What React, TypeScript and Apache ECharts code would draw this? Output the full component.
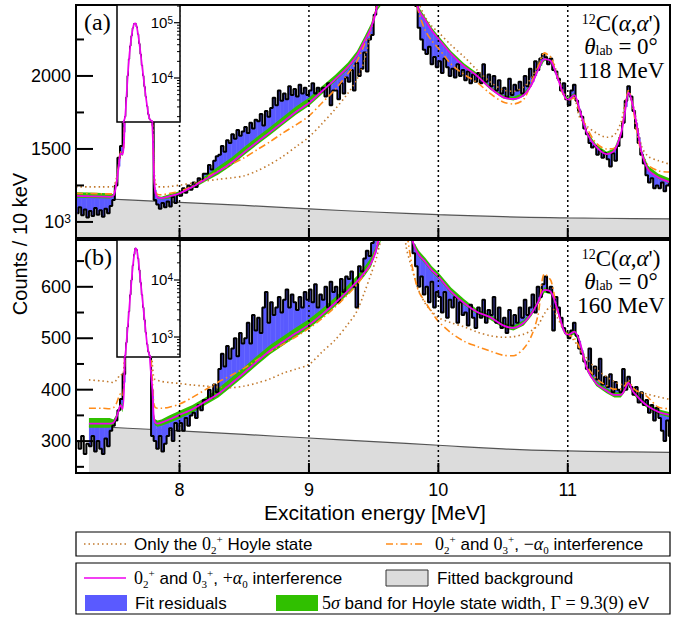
import React, { useEffect, useRef } from "react";
import * as echarts from "echarts";

// ---------- data ----------
const BIN_START = 7.21; // MeV, centre of first displayed bin
const BIN_STEP = 0.02;

const countsA = [
  1060, 1100, 1045, 1085, 1030, 1075, 1040, 1095, 1050, 1080,
  1035, 1090, 1060, 1110, 1150, 1250, 1440, 1520, 1900, 5000,
  25000, 60000, 98000, 85000, 42000, 17000, 7000, 3000, 2000, 1800,
  1150, 1120, 1090, 1130, 1100, 1140, 1105, 1170, 1130, 1190,
  1180, 1230, 1200, 1250, 1220, 1270, 1240, 1300, 1280, 1330,
  1330, 1390, 1360, 1420, 1450, 1460, 1520, 1480, 1560, 1540,
  1600, 1570, 1630, 1590, 1620, 1650, 1610, 1680, 1640, 1700,
  1690, 1740, 1660, 1760, 1720, 1780, 1850, 1800, 1900, 1830,
  1880, 1840, 1930, 1870, 1910, 1860, 1940, 1880, 1920, 1870,
  1900, 1950, 1880, 1920, 1890, 1920, 1860, 1950, 1800, 1900,
  1900, 1840, 1950, 1880, 1990, 1960, 2040, 1900, 2090, 2000,
  2050, 2160, 2030, 2250, 2280, 2420, 2700, 3000, 3400, 3800,
  4200, 4500, 4600, 4500, 4300, 4000, 3700, 3300, 3000, 2800,
  2620, 2480, 2330, 2250, 2180, 2150, 2200, 2080, 2130, 2060,
  2100, 2020, 2120, 2060, 2000, 2050, 1990, 2080, 2000, 2040,
  1970, 2030, 1950, 2010, 1960, 2020, 1950, 2080, 1960, 2010,
  1930, 2000, 1900, 1970, 1880, 1920, 1850, 1980, 1870, 1940,
  1900, 1960, 1880, 2000, 1930, 2050, 1990, 2100, 2040, 2120,
  2150, 2130, 2080, 2120, 2040, 2030, 1980, 1900, 1950, 1840,
  1800, 1900, 1940, 1830, 1760, 1720, 1640, 1600, 1540, 1510,
  1520, 1460, 1490, 1440, 1470, 1430, 1380, 1470, 1420, 1520,
  1580, 1680, 1830, 1930, 1860, 1760, 1640, 1540, 1460, 1400,
  1320, 1270, 1300, 1230, 1250, 1230, 1270, 1210, 1250, 1260,
];

const countsB = [
  300, 285, 310, 275, 295, 290, 310, 280, 300, 285,
  275, 305, 290, 320, 330, 340, 360, 382, 430, 1100,
  3000, 10000, 28000, 34000, 15000, 5500, 2000, 750, 470, 310,
  300, 285, 310, 280, 295, 310, 325, 300, 335, 320,
  335, 320, 345, 330, 350, 355, 345, 370, 360, 380,
  380, 400, 385, 410, 395, 440, 470, 445, 485, 460,
  480, 500, 465, 510, 490, 500, 530, 490, 545, 515,
  540, 510, 560, 590, 530, 570, 545, 560, 580, 550,
  575, 595, 560, 585, 570, 555, 580, 560, 590, 575,
  595, 570, 605, 560, 585, 575, 600, 560, 610, 590,
  600, 570, 615, 590, 620, 615, 630, 600, 560, 640,
  630, 655, 670, 660, 685, 730, 900, 1100, 1300, 1500,
  1600, 1700, 1700, 1650, 1550, 1400, 1200, 1000, 850, 740,
  665, 640, 600, 620, 585, 600, 570, 610, 560, 590,
  580, 550, 590, 540, 575, 560, 580, 530, 570, 545,
  550, 525, 565, 540, 520, 560, 540, 575, 530, 555,
  545, 580, 530, 560, 520, 540, 510, 555, 525, 545,
  530, 560, 540, 575, 545, 560, 585, 550, 600, 580,
  605, 620, 590, 600, 515, 580, 560, 540, 520, 510,
  500, 515, 530, 505, 480, 470, 455, 440, 480, 430,
  445, 420, 460, 410, 425, 405, 430, 395, 415, 400,
  395, 440, 400, 425, 405, 390, 405, 375, 395, 370,
  380, 355, 370, 340, 365, 345, 320, 300, 340, 310,
];

// energies at which the model curves are sampled
const curveE = [
  7.2, 7.3, 7.4, 7.46, 7.49, 7.51, 7.53, 7.545, 7.56, 7.575,
  7.59, 7.62, 7.66, 7.7, 7.74, 7.77, 7.79, 7.8, 7.81, 7.83,
  7.86, 7.92, 8.0, 8.1, 8.2, 8.3, 8.4, 8.5, 8.6, 8.7,
  8.8, 8.9, 9.0, 9.1, 9.2, 9.3, 9.37, 9.43, 9.48, 9.52,
  9.56, 9.6, 9.65, 9.7, 9.75, 9.79, 9.82, 9.85, 9.9, 9.95,
  10.0, 10.1, 10.2, 10.3, 10.4, 10.5, 10.58, 10.66, 10.72, 10.77,
  10.82, 10.87, 10.92, 10.97, 11.0, 11.05, 11.09, 11.15, 11.22, 11.3,
  11.36, 11.41, 11.44, 11.47, 11.5, 11.53, 11.57, 11.62, 11.7, 11.79,
];

const fitA = [
  1178, 1176, 1174, 1172, 1180, 1250, 1380, 1470, 1462, 1690,
  4500, 38000, 97000, 27000, 4600, 1850, 1660, 1400, 1220, 1168,
  1163, 1175, 1196, 1240, 1292, 1345, 1405, 1478, 1548, 1615,
  1685, 1755, 1815, 1895, 1975, 2060, 2140, 2240, 2330, 2450,
  2700, 3300, 4200, 4000, 3300, 2750, 2560, 2450, 2380, 2310,
  2255, 2150, 2065, 2000, 1918, 1855, 1842, 1870, 1940, 2040,
  2115, 2100, 1990, 1870, 1836, 1868, 1775, 1605, 1515, 1465,
  1490, 1600, 1740, 1885, 1810, 1680, 1480, 1360, 1305, 1272,
];
const bandUpA = [
  25, 25, 25, 25, 10, 10, 10, 10, 10, 10,
  10, 10, 10, 10, 10, 10, 10, 10, 10, 10,
  10, 15, 15, 15, 22, 35, 35, 35, 35, 35,
  35, 35, 35, 35, 30, 30, 30, 30, 30, 20,
  20, 20, 20, 20, 20, 20, 20, 20, 20, 20,
  20, 20, 20, 20, 15, 15, 15, 15, 15, 15,
  15, 15, 15, 15, 15, 15, 15, 15, 15, 15,
  15, 15, 15, 15, 15, 15, 15, 25, 25, 25,
];
const bandDnA = [
  12, 12, 12, 12, 10, 10, 10, 10, 10, 10,
  10, 10, 10, 10, 10, 10, 10, 10, 10, 10,
  10, 15, 15, 15, 15, 20, 20, 20, 20, 20,
  20, 20, 20, 20, 15, 15, 15, 15, 15, 8,
  8, 8, 8, 8, 8, 8, 8, 8, 8, 8,
  8, 8, 8, 8, 10, 10, 10, 10, 10, 10,
  10, 10, 10, 10, 10, 10, 10, 10, 10, 10,
  10, 10, 10, 10, 10, 10, 10, 10, 10, 10,
];
const hoyleA = [
  1240, 1240, 1240, 1240, 1245, 1290, 1400, 1480, 1470, 1700,
  4500, 38000, 97000, 27000, 4600, 1870, 1700, 1450, 1290, 1242,
  1240, 1242, 1252, 1266, 1280, 1292, 1302, 1316, 1350, 1395,
  1450, 1515, 1582, 1672, 1770, 1880, 1975, 2110, 2320, 2480,
  2800, 3300, 4200, 4000, 3400, 2900, 2620, 2500, 2400, 2340,
  2300, 2210, 2130, 2040, 1960, 1905, 1895, 1925, 1990, 2070,
  2140, 2130, 2010, 1890, 1836, 1840, 1720, 1655, 1610, 1580,
  1595, 1680, 1800, 1900, 1820, 1700, 1520, 1450, 1420, 1395,
];
const minusA = [
  1195, 1195, 1193, 1192, 1198, 1265, 1390, 1475, 1465, 1695,
  4500, 38000, 97000, 27000, 4600, 1860, 1680, 1420, 1240, 1188,
  1186, 1195, 1210, 1245, 1300, 1350, 1395, 1440, 1495, 1550,
  1610, 1665, 1726, 1815, 1905, 2015, 2100, 2220, 2330, 2460,
  2750, 3300, 4200, 4000, 3300, 2750, 2550, 2430, 2310, 2240,
  2190, 2080, 2010, 1955, 1880, 1822, 1808, 1840, 1960, 2060,
  2158, 2125, 1990, 1860, 1836, 1850, 1760, 1640, 1540, 1500,
  1505, 1610, 1760, 1900, 1800, 1640, 1470, 1390, 1350, 1342,
];

const fitB = [
  null, 334, 334, 334, 336, 345, 360, 370, 362, 440,
  800, 5500, 36000, 9000, 1200, 470, 400, 350, 337, 334,
  336, 342, 351, 362, 377, 392, 412, 433, 455, 476,
  493, 510, 526, 546, 568, 592, 610, 628, 646, 672,
  720, 800, 900, 850, 760, 700, 675, 662, 648, 632,
  620, 590, 568, 551, 541, 525, 520, 530, 548, 570,
  594, 590, 556, 515, 506, 513, 495, 440, 412, 398,
  390, 390, 400, 413, 398, 389, 378, 368, 357, 351,
];
const bandUpB = [
  null, 11, 11, 11, 6, 6, 6, 6, 6, 6,
  6, 6, 6, 6, 6, 6, 6, 6, 6, 6,
  6, 8, 8, 8, 8, 11, 11, 11, 11, 11,
  11, 11, 11, 11, 11, 11, 11, 11, 11, 8,
  8, 8, 8, 8, 8, 8, 8, 8, 8, 8,
  8, 8, 8, 5, 5, 5, 5, 5, 5, 5,
  5, 5, 5, 5, 5, 5, 5, 5, 5, 5,
  5, 5, 5, 5, 5, 5, 5, 5, 5, 5,
];
const bandDnB = [
  null, 8, 8, 8, 6, 6, 6, 6, 6, 6,
  6, 6, 6, 6, 6, 6, 6, 6, 6, 6,
  6, 7, 7, 7, 7, 7, 7, 7, 7, 7,
  7, 7, 7, 7, 7, 7, 7, 7, 7, 4,
  4, 4, 4, 4, 4, 4, 4, 4, 4, 4,
  4, 4, 4, 5, 5, 5, 5, 5, 5, 5,
  5, 5, 5, 5, 5, 5, 5, 5, 5, 5,
  5, 5, 5, 5, 5, 5, 5, 5, 5, 5,
];
const hoyleB = [
  null, 419, 417, 415, 414, 418, 425, 430, 428, 470,
  800, 5500, 36000, 9000, 1200, 540, 450, 425, 420, 418,
  416, 414, 412, 409, 407, 405, 404, 407, 413, 421,
  432, 440, 449, 473, 496, 527, 552, 590, 625, 655,
  700, 800, 900, 800, 680, 640, 615, 592, 567, 552,
  540, 530, 522, 512, 505, 502, 503, 508, 515, 525,
  548, 562, 540, 515, 508, 495, 480, 460, 440, 425,
  416, 410, 412, 418, 405, 397, 394, 391, 386, 381,
];
const minusB = [
  null, 364, 364, 363, 365, 372, 385, 392, 388, 445,
  800, 5500, 36000, 9000, 1200, 500, 420, 375, 366, 364,
  364, 366, 372, 385, 400, 415, 428, 442, 458, 474,
  488, 503, 519, 538, 560, 585, 604, 625, 646, 675,
  730, 800, 900, 850, 720, 650, 615, 590, 570, 550,
  533, 510, 494, 484, 475, 467, 466, 480, 505, 545,
  625, 612, 552, 515, 508, 500, 482, 445, 422, 408,
  401, 402, 408, 415, 405, 398, 394, 385, 366, 363,
];

const bgE = [7.2, 7.3, 7.6, 8.0, 8.5, 9.0, 9.5, 10.0, 10.5, 11.0, 11.5, 11.79];
const bgA = [1166, 1163, 1151, 1134, 1113, 1090, 1068, 1050, 1036, 1028, 1023, 1021];
const bgB = [null, 329, 325, 320, 313, 306, 299, 292, 285, 281, 279, 278];

// Hoyle peak, 10 keV bins, for the log-scale insets
const INSET_START = 7.56;
const INSET_STEP = 0.01;
const insetA = [
  1460, 1650, 2000, 4500, 11000, 22000, 38000, 58000, 80000, 96000,
  97000, 84000, 62000, 42000, 27000, 17000, 11000, 7000, 4600, 3100,
  2200, 1800, 1700, 1650, 1150,
];
const insetB = [
  370, 400, 470, 800, 1500, 2800, 5500, 10000, 18000, 28000,
  36000, 34000, 24000, 15000, 9000, 5500, 3300, 2000, 1200, 750,
  550, 470, 430, 320, 300,
];

const xTicks = [8, 9, 10, 11];
const yMajorA = [1000, 1500, 2000];
const yMinorA = [1250, 1750, 2250];
const yMajorB = [300, 400, 500, 600];
const yMinorB = [250, 350, 450, 550, 650];
const insetMajorA = [1e4, 1e5];
const insetMinorA = [2000, 3000, 4000, 5000, 6000, 7000, 8000, 9000, 20000, 30000, 40000, 50000, 60000, 70000, 80000, 90000, 200000];
const insetMajorB = [1e3, 1e4];
const insetMinorB = [500, 600, 700, 800, 900, 2000, 3000, 4000, 5000, 6000, 7000, 8000, 9000, 20000, 30000, 40000, 50000];

// ---------- style ----------
const X_MIN = 7.2;
const X_MAX = 11.79;
const Y_A = [890, 2486];
const Y_B = [238, 691];
const INSET_X = [7.517, 8.004];
const INSET_Y_A = [1600, 209000];
const INSET_Y_B = [446, 50300];

const BLUE = "#5a5aff";
const GREEN = "#30c000";
const MAGENTA = "#ee00ee";
const DOT = "#c27a2e";
const DASH = "#ff8c1a";
const GRAY = "#dcdcdc";
const SANS = "'Liberation Sans', Arial, Helvetica, sans-serif";
const SERIF = "'Liberation Serif', 'Times New Roman', serif";

function interpAt(xs: number[], ys: any[], x: number): number | null {
  let prev = -1;
  for (let i = 0; i < xs.length; i++) {
    if (ys[i] == null) continue;
    if (xs[i] >= x - 1e-9) {
      if (prev < 0) return Math.abs(xs[i] - x) < 1e-9 ? ys[i] : null;
      const t = (x - xs[prev]) / (xs[i] - xs[prev]);
      return ys[prev] + t * (ys[i] - ys[prev]);
    }
    prev = i;
  }
  return prev >= 0 ? ys[prev] : null;
}

function powLabel(x: number, y: number, exp: number, size: number) {
  return {
    type: "text", x, y,
    style: {
      text: "10{s|" + exp + "}", align: "right", verticalAlign: "middle",
      fontSize: size, fontFamily: SANS, fill: "#000",
      rich: { s: { fontSize: Math.round(size * 0.68), fontFamily: SANS, fill: "#000", verticalAlign: "top" } },
    },
  };
}

function panelSeries(p: number, counts: number[], fit: any[], up: any[], dn: any[], hoyle: any[], minus: any[], bg: any[], yr: number[], yMajor: number[], yMinor: number[], withX: boolean) {
  const binPts = counts.map((v, i) => [BIN_START + i * BIN_STEP, v]);
  const pairs = (arr: any[]) => curveE.map((e, i) => [e, arr[i]]).filter((d) => d[1] != null);
  const cl = (v: number) => Math.max(yr[0], Math.min(yr[1], v));
  const clx = (x: number) => Math.max(X_MIN, Math.min(X_MAX, x));
  const common = { xAxisIndex: p, yAxisIndex: p, silent: true };
  return [
    {
      ...common, type: "line", z: 1, smooth: true, symbol: "none",
      data: bgE.map((e, i) => [e, bg[i]]).filter((d) => d[1] != null),
      lineStyle: { color: "#555", width: 1.2 },
      areaStyle: { color: GRAY, opacity: 1, origin: "start" },
    },
    {
      ...common, type: "custom", z: 2, clip: true, data: binPts,
      renderItem: (params: any, api: any) => {
        const e = api.value(0), v = api.value(1);
        const f = interpAt(curveE, fit, e);
        if (f == null) return { type: "group", children: [] };
        const a = api.coord([clx(e - BIN_STEP / 2), cl(f)]);
        const b = api.coord([clx(e + BIN_STEP / 2), cl(v)]);
        return {
          type: "rect",
          shape: { x: a[0], y: Math.min(a[1], b[1]), width: b[0] - a[0] + 0.4, height: Math.abs(b[1] - a[1]) },
          style: { fill: BLUE },
        };
      },
    },
    {
      ...common, type: "custom", z: 3, clip: true, data: [[X_MIN, yr[0]]],
      renderItem: (params: any, api: any) => {
        const pts: number[][] = [];
        for (let i = 0; i < curveE.length; i++) {
          if (fit[i] == null) continue;
          pts.push(api.coord([curveE[i], cl(fit[i] + up[i])]));
        }
        for (let i = curveE.length - 1; i >= 0; i--) {
          if (fit[i] == null) continue;
          pts.push(api.coord([curveE[i], cl(fit[i] - dn[i])]));
        }
        return { type: "polygon", shape: { points: pts }, style: { fill: GREEN } };
      },
    },
    {
      ...common, type: "line", z: 4, step: "middle", symbol: "none", data: binPts,
      lineStyle: { color: "#000", width: 2 },
    },
    {
      ...common, type: "line", z: 5, smooth: 0.3, symbol: "none", data: pairs(hoyle),
      lineStyle: { color: DOT, width: 1.6, type: [1.5, 3] },
    },
    {
      ...common, type: "line", z: 5, smooth: 0.3, symbol: "none", data: pairs(minus),
      lineStyle: { color: DASH, width: 1.6, type: [7, 3, 1.5, 3] },
    },
    {
      ...common, type: "line", z: 6, smooth: 0.3, symbol: "none", data: pairs(fit),
      lineStyle: { color: MAGENTA, width: 1.8 },
    },
    {
      ...common, type: "custom", z: 7, clip: false, data: [[X_MIN, yr[0]]],
      renderItem: (params: any, api: any) => {
        const cs = params.coordSys;
        const left = cs.x, top = cs.y, bottom = cs.y + cs.height;
        const ch: any[] = [];
        xTicks.forEach((x) => {
          const px = api.coord([x, yr[0]])[0];
          ch.push({ type: "line", shape: { x1: px, y1: top, x2: px, y2: bottom }, style: { stroke: "#000", lineWidth: 1.5, lineDash: [2, 3] } });
          ch.push({ type: "line", shape: { x1: px, y1: bottom, x2: px, y2: bottom - 10 }, style: { stroke: "#000", lineWidth: 2 } });
          if (withX)
            ch.push({ type: "text", x: px, y: bottom + 8, style: { text: String(x), align: "center", verticalAlign: "top", fontSize: 18, fontFamily: SANS, fill: "#000" } });
        });
        yMajor.forEach((v) => {
          const py = api.coord([X_MIN, v])[1];
          ch.push({ type: "line", shape: { x1: left, y1: py, x2: left + 17, y2: py }, style: { stroke: "#000", lineWidth: 2 } });
          if (v === 1000) ch.push(powLabel(left - 5, py, 3, 18));
          else ch.push({ type: "text", x: left - 5, y: py, style: { text: String(v), align: "right", verticalAlign: "middle", fontSize: 18, fontFamily: SANS, fill: "#000" } });
        });
        yMinor.forEach((v) => {
          const py = api.coord([X_MIN, v])[1];
          ch.push({ type: "line", shape: { x1: left, y1: py, x2: left + 8, y2: py }, style: { stroke: "#000", lineWidth: 2 } });
        });
        return { type: "group", children: ch };
      },
    },
  ];
}

function insetSeries(p: number, vals: number[], yr: number[], major: number[], minor: number[]) {
  const pts = vals.map((v, i) => [INSET_START + i * INSET_STEP, v]);
  const common = { xAxisIndex: p, yAxisIndex: p, silent: true };
  return [
    { ...common, type: "line", z: 11, step: "middle", symbol: "none", data: pts, lineStyle: { color: "#000", width: 1 } },
    { ...common, type: "line", z: 12, smooth: 0.3, symbol: "none", data: pts, lineStyle: { color: MAGENTA, width: 1.7 } },
    {
      ...common, type: "custom", z: 13, clip: false, data: [[INSET_X[0], yr[0]]],
      renderItem: (params: any, api: any) => {
        const cs = params.coordSys;
        const right = cs.x + cs.width;
        const ch: any[] = [];
        major.forEach((v) => {
          const py = api.coord([INSET_X[0], v])[1];
          ch.push({ type: "line", shape: { x1: right, y1: py, x2: right - 6, y2: py }, style: { stroke: "#000", lineWidth: 1.2 } });
          ch.push(powLabel(right - 7, py, Math.round(Math.log10(v)), 15));
        });
        minor.forEach((v) => {
          const py = api.coord([INSET_X[0], v])[1];
          ch.push({ type: "line", shape: { x1: right, y1: py, x2: right - 3, y2: py }, style: { stroke: "#000", lineWidth: 1 } });
        });
        return { type: "group", children: ch };
      },
    },
  ];
}

const LR: any = {
  t: { fontFamily: SANS, fontSize: 17, fill: "#000", lineHeight: 22 },
  m: { fontFamily: SERIF, fontSize: 18, fill: "#000", lineHeight: 22 },
  mi: { fontFamily: SERIF, fontSize: 18, fontStyle: "italic", fill: "#000", lineHeight: 22 },
  sb: { fontFamily: SERIF, fontSize: 11, fill: "#000", verticalAlign: "bottom" },
  sp: { fontFamily: SERIF, fontSize: 11, fill: "#000", verticalAlign: "top" },
};
const AR: any = {
  r: { fontFamily: SERIF, fontSize: 23, fill: "#000", lineHeight: 22 },
  i: { fontFamily: SERIF, fontSize: 23, fontStyle: "italic", fill: "#000", lineHeight: 22 },
  s: { fontFamily: SERIF, fontSize: 14, fill: "#000", verticalAlign: "top" },
  b: { fontFamily: SERIF, fontSize: 14, fill: "#000", verticalAlign: "bottom" },
};

function rtext(x: number, y: number, text: string, rich: any, align = "left") {
  return { type: "text", x, y, z: 100, style: { text, rich, align, verticalAlign: "middle", fill: "#000" } };
}
function ptext(x: number, y: number, text: string, opts: any = {}) {
  return { type: "text", x, y, z: 100, style: { text, fill: "#000", fontFamily: SANS, fontSize: 20, align: "center", verticalAlign: "middle", ...opts } };
}

function buildGraphics() {
  const g: any[] = [];
  const yTitle: any = ptext(20, 244, "Counts / 10 keV", { fontSize: 20 });
  yTitle.rotation = Math.PI / 2;
  g.push(yTitle);
  g.push(ptext(375, 512, "Excitation energy [MeV]", { fontSize: 21 }));
  // panel annotations
  const ann = (y0: number, label: string, energy: string) => {
    g.push(ptext(84, y0, label, { fontFamily: SERIF, fontSize: 24, align: "left" }));
    g.push(rtext(621, y0 + 1, "{s|12}{r|C(}{i|\u03b1}{r|,}{i|\u03b1}{r|')}", AR, "center"));
    g.push(rtext(621, y0 + 24, "{i|\u03b8}{b|lab}{r| = 0\u00b0}", AR, "center"));
    g.push(ptext(621, y0 + 48, energy, { fontFamily: SERIF, fontSize: 23 }));
  };
  ann(22, "(a)", "118 MeV");
  ann(257, "(b)", "160 MeV");
  // legend box 1
  g.push({ type: "rect", z: 99, shape: { x: 76, y: 532, width: 594, height: 24 }, style: { fill: "#fff", stroke: "#000", lineWidth: 1.2 } });
  g.push({ type: "line", z: 100, shape: { x1: 84, y1: 544, x2: 126, y2: 544 }, style: { stroke: DOT, lineWidth: 1.6, lineDash: [1.5, 3] } });
  g.push(rtext(134, 544, "{t|Only the }{m|0}{sb|2}{sp|+}{t| Hoyle state}", LR));
  g.push({ type: "line", z: 100, shape: { x1: 386, y1: 544, x2: 424, y2: 544 }, style: { stroke: DASH, lineWidth: 1.6, lineDash: [7, 3, 1.5, 3] } });
  g.push(rtext(435, 544, "{m|0}{sb|2}{sp|+}{t| and }{m|0}{sb|3}{sp|+}{t|, }{m|\u2212}{mi|\u03b1}{sb|0}{t| interference}", LR));
  // legend box 2
  g.push({ type: "rect", z: 99, shape: { x: 76, y: 563, width: 594, height: 51 }, style: { fill: "#fff", stroke: "#000", lineWidth: 1.2 } });
  g.push({ type: "line", z: 100, shape: { x1: 84, y1: 578, x2: 126, y2: 578 }, style: { stroke: MAGENTA, lineWidth: 1.6 } });
  g.push(rtext(134, 578, "{m|0}{sb|2}{sp|+}{t| and }{m|0}{sb|3}{sp|+}{t|, }{m|+}{mi|\u03b1}{sb|0}{t| interference}", LR));
  g.push({ type: "rect", z: 100, shape: { x: 386, y: 570, width: 42, height: 16 }, style: { fill: GRAY, stroke: "#333", lineWidth: 1 } });
  g.push(rtext(437, 578, "{t|Fitted background}", LR));
  g.push({ type: "rect", z: 100, shape: { x: 85, y: 595, width: 42, height: 16 }, style: { fill: BLUE } });
  g.push(rtext(135, 603, "{t|Fit residuals}", LR));
  g.push({ type: "rect", z: 100, shape: { x: 276, y: 595, width: 42, height: 16 }, style: { fill: GREEN } });
  g.push(rtext(322, 603, "{m|5}{mi|\u03c3}{t| band for Hoyle state width, }{m|\u0393 = 9.3(9)}{t| eV}", LR));
  return g;
}

function buildOption() {
  const mainGrid = { show: true, borderColor: "#000", borderWidth: 2, backgroundColor: "transparent", z: 8 };
  const insetGrid = { show: true, borderColor: "#000", borderWidth: 1.5, backgroundColor: "#fff", z: 10 };
  return {
    animation: false,
    backgroundColor: "#fff",
    grid: [
      { ...mainGrid, left: 76, top: 5, width: 594, height: 233 },
      { ...mainGrid, left: 76, top: 240, width: 594, height: 233 },
      { ...insetGrid, left: 117, top: 5, width: 63, height: 117 },
      { ...insetGrid, left: 117, top: 240, width: 63, height: 117 },
    ],
    xAxis: [
      { gridIndex: 0, type: "value", min: X_MIN, max: X_MAX, show: false },
      { gridIndex: 1, type: "value", min: X_MIN, max: X_MAX, show: false },
      { gridIndex: 2, type: "value", min: INSET_X[0], max: INSET_X[1], show: false },
      { gridIndex: 3, type: "value", min: INSET_X[0], max: INSET_X[1], show: false },
    ],
    yAxis: [
      { gridIndex: 0, type: "value", min: Y_A[0], max: Y_A[1], show: false },
      { gridIndex: 1, type: "value", min: Y_B[0], max: Y_B[1], show: false },
      { gridIndex: 2, type: "log", logBase: 10, min: INSET_Y_A[0], max: INSET_Y_A[1], show: false },
      { gridIndex: 3, type: "log", logBase: 10, min: INSET_Y_B[0], max: INSET_Y_B[1], show: false },
    ],
    series: [
      ...panelSeries(0, countsA, fitA, bandUpA, bandDnA, hoyleA, minusA, bgA, Y_A, yMajorA, yMinorA, false),
      ...panelSeries(1, countsB, fitB, bandUpB, bandDnB, hoyleB, minusB, bgB, Y_B, yMajorB, yMinorB, true),
      ...insetSeries(2, insetA, INSET_Y_A, insetMajorA, insetMinorA),
      ...insetSeries(3, insetB, INSET_Y_B, insetMajorB, insetMinorB),
    ],
    graphic: buildGraphics(),
  };
}

export default function App() {
  const ref = useRef<HTMLDivElement>(null);
  useEffect(() => {
    const chart = echarts.init(ref.current as HTMLDivElement, null, { renderer: "svg" });
    chart.setOption(buildOption() as any);
    return () => chart.dispose();
  }, []);
  return <div ref={ref} style={{ position: "fixed", left: 0, top: 0, width: 691, height: 620, background: "#fff" }} />;
}
